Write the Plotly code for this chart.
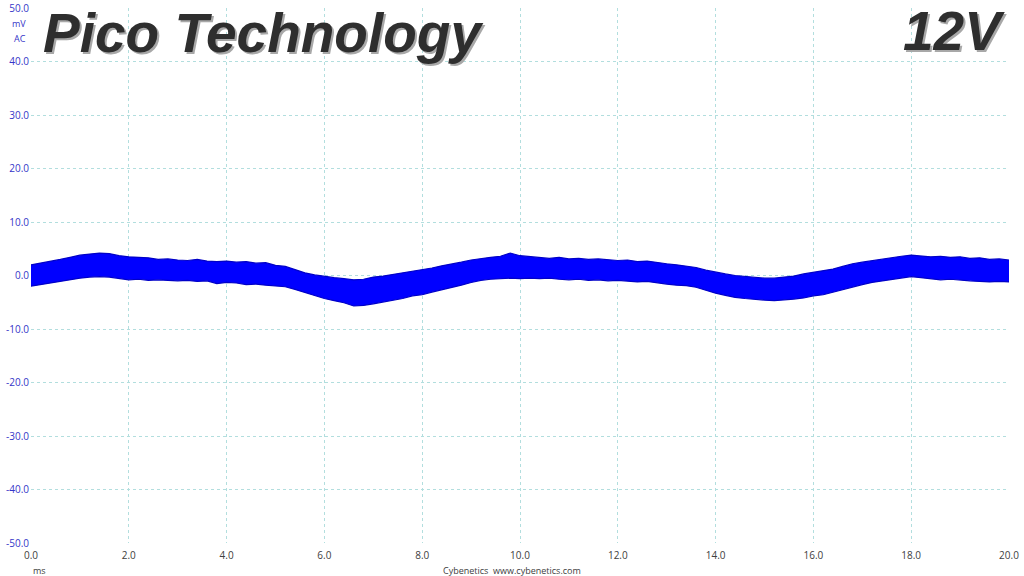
import plotly.graph_objects as go

# time (ms) sample points and envelope of the ripple band (mV)
time_ms = [round(i * 0.2, 1) for i in range(101)]
upper_mv = [2.0, 2.3, 2.6, 3.0, 3.4, 3.8, 4.0, 4.2, 4.1, 3.7,
            3.5, 3.4, 3.3, 3.0, 3.1, 2.9, 2.8, 3.0, 2.7, 2.6,
            2.7, 2.5, 2.6, 2.3, 2.4, 1.9, 1.7, 1.1, 0.5, 0.1,
            -0.2, -0.4, -0.6, -0.8, -0.7, -0.3, -0.1, 0.2, 0.4, 0.7,
            1.0, 1.4, 1.8, 2.1, 2.5, 2.9, 3.2, 3.4, 3.6, 4.2,
            3.7, 3.5, 3.3, 3.2, 3.4, 3.1, 3.2, 3.0, 3.1, 2.9,
            2.8, 2.9, 2.6, 2.7, 2.4, 2.2, 2.0, 1.8, 1.5, 1.0,
            0.6, 0.3, 0.0, -0.2, -0.4, -0.5, -0.5, -0.3, -0.1, 0.3,
            0.6, 0.8, 1.2, 1.7, 2.2, 2.5, 2.8, 3.1, 3.3, 3.6,
            3.8, 3.7, 3.5, 3.6, 3.4, 3.5, 3.2, 3.3, 3.0, 3.1,
            2.9]
lower_mv = [-2.0, -1.7, -1.3, -1.1, -0.8, -0.5, -0.3, -0.2, -0.3, -0.6,
            -0.8, -0.7, -0.9, -0.8, -0.9, -1.0, -0.9, -1.1, -1.0, -1.5,
            -1.3, -1.4, -1.7, -1.6, -1.8, -1.9, -2.1, -2.6, -3.2, -3.8,
            -4.3, -4.7, -5.1, -5.7, -5.6, -5.3, -5.0, -4.6, -4.3, -3.8,
            -3.6, -3.1, -2.7, -2.3, -1.8, -1.3, -0.9, -0.7, -0.6, -0.5,
            -0.6, -0.5, -0.6, -0.5, -0.7, -0.8, -0.7, -0.9, -0.8, -1.0,
            -0.9, -1.0, -1.2, -1.1, -1.4, -1.6, -1.8, -1.9, -2.2, -2.8,
            -3.3, -3.7, -4.1, -4.3, -4.5, -4.6, -4.7, -4.6, -4.4, -4.2,
            -3.8, -3.6, -3.1, -2.7, -2.2, -1.7, -1.3, -1.0, -0.8, -0.4,
            -0.2, -0.4, -0.6, -0.8, -0.7, -0.9, -1.0, -1.1, -1.2, -1.1,
            -1.2]

x_ticks = [0, 2, 4, 6, 8, 10, 12, 14, 16, 18, 20]
y_ticks = [50, 40, 30, 20, 10, 0, -10, -20, -30, -40, -50]

fig = go.Figure()
fig.add_trace(go.Scatter(x=time_ms, y=lower_mv, mode="lines",
                         line=dict(color="#0000c8", width=1.2),
                         hoverinfo="skip", showlegend=False))
fig.add_trace(go.Scatter(x=time_ms, y=upper_mv, mode="lines",
                         line=dict(color="#0000c8", width=1.2),
                         fill="tonexty", fillcolor="#0000ff",
                         hoverinfo="skip", showlegend=False))

grid_col = "#b2dede"
fig.update_xaxes(range=[0, 20], tickvals=x_ticks, automargin=False,
                 ticktext=[f"{v:.1f}" for v in x_ticks],
                 showgrid=True, gridcolor=grid_col, griddash="dot", gridwidth=1,
                 zeroline=False, showline=False, ticks="", ticklabelstandoff=5,
                 tickfont=dict(family="Open Sans", size=10, color="#404040"))
fig.update_yaxes(range=[-50, 50], tickvals=y_ticks, automargin=False,
                 ticktext=[f"{v:.1f}" for v in y_ticks],
                 showgrid=True, gridcolor=grid_col, griddash="dot", gridwidth=1,
                 zeroline=False, showline=False, ticks="", ticklabelstandoff=1,
                 tickfont=dict(family="Open Sans", size=10, color="#3535c8"))

ann = []
# title with soft shadow
for dx, dy, col in [(2, -2, "#a8a8a8"), (0, 0, "#2e2e2e")]:
    ann.append(dict(text="<b><i>Pico Technology</i></b>", xref="paper", yref="paper",
                    x=0.0, y=1.0, xanchor="left", yanchor="top", showarrow=False,
                    xshift=dx + 10, yshift=dy + 8,
                    font=dict(family="Liberation Sans", size=55, color=col)))
    ann.append(dict(text="<b><i>12V</i></b>", xref="paper", yref="paper",
                    x=1.0, y=1.0, xanchor="right", yanchor="top", showarrow=False,
                    xshift=dx - 2, yshift=dy + 10,
                    font=dict(family="Liberation Sans", size=55, color=col)))
ann.append(dict(text="mV", xref="paper", yref="paper", x=0, y=1, xanchor="right",
                yanchor="top", xshift=-3, yshift=-7, showarrow=False,
                font=dict(family="Open Sans", size=9, color="#3535c8")))
ann.append(dict(text="AC", xref="paper", yref="paper", x=0, y=1, xanchor="right",
                yanchor="top", xshift=-3, yshift=-22, showarrow=False,
                font=dict(family="Open Sans", size=9, color="#3535c8")))
ann.append(dict(text="ms", xref="paper", yref="paper", x=0, y=0, xanchor="left",
                yanchor="top", xshift=0, yshift=-19, showarrow=False,
                font=dict(family="Open Sans", size=9, color="#404040")))
ann.append(dict(text="Cybenetics  www.cybenetics.com", xref="paper", yref="paper",
                x=0.492, y=0, xanchor="center", yanchor="top", yshift=-19, showarrow=False,
                font=dict(family="Open Sans", size=9, color="#404040")))

fig.update_layout(width=1024, height=576, autosize=False,
                  margin=dict(l=31, r=15, t=8, b=33),
                  paper_bgcolor="white", plot_bgcolor="white",
                  annotations=ann, showlegend=False)

fig.write_html("out.html", config={"displayModeBar": False},
               post_script="document.body.style.margin='0';document.body.style.overflow='hidden';")
